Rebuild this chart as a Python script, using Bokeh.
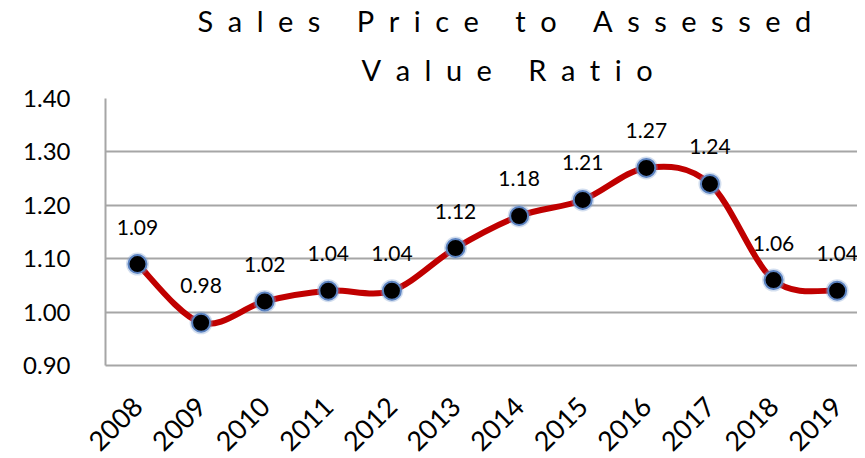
from math import pi
from bokeh.plotting import figure
from bokeh.models import Range1d, FixedTicker, ColumnDataSource, LabelSet, Title
from bokeh.core.properties import value
from bokeh.embed import file_html
from bokeh.resources import INLINE

# ---- data ----
years = ["2008", "2009", "2010", "2011", "2012", "2013",
         "2014", "2015", "2016", "2017", "2018", "2019"]
ratios = [1.09, 0.98, 1.02, 1.04, 1.04, 1.12, 1.18, 1.21, 1.27, 1.24, 1.06, 1.04]
y_ticks = [0.90, 1.00, 1.10, 1.20, 1.30, 1.40]
title_lines = ["Sales Price to Assessed", "Value Ratio"]

FONT = "Lato"
GRID = "#a6a6a6"
RED = "#C00000"

xs = list(range(len(years)))

def spaced(s):
    return "\u2002".join(s)

p = figure(frame_width=752, frame_height=267, output_backend="svg",
           toolbar_location=None,
           x_range=Range1d(-0.503, 11.32), y_range=Range1d(0.90, 1.40),
           min_border_left=105, min_border_right=0, min_border_top=98,
           min_border_bottom=84)
p.outline_line_color = None
p.background_fill_color = "white"
p.border_fill_color = "white"

# axes
p.xaxis.ticker = FixedTicker(ticks=xs)
p.xaxis.major_label_overrides = {i: y for i, y in zip(xs, years)}
p.xaxis.major_label_orientation = pi / 4
p.xaxis.major_label_text_font = FONT
p.xaxis.major_label_text_font_size = "27px"
p.xaxis.major_label_text_color = "black"
p.xaxis.major_label_standoff = 30
p.xaxis.major_tick_line_color = None
p.xaxis.minor_tick_line_color = None
p.xaxis.axis_line_color = GRID
p.xaxis.axis_line_width = 2

p.yaxis.ticker = FixedTicker(ticks=y_ticks)
p.yaxis.major_label_overrides = {t: f"{t:.2f}" for t in y_ticks}
p.yaxis.major_label_text_font = FONT
p.yaxis.major_label_text_font_size = "24px"
p.yaxis.major_label_text_color = "black"
p.yaxis.major_label_standoff = 29
p.yaxis.major_tick_line_color = None
p.yaxis.minor_tick_line_color = None
p.yaxis.axis_line_color = GRID
p.yaxis.axis_line_width = 2

p.xgrid.grid_line_color = None
p.ygrid.ticker = FixedTicker(ticks=y_ticks)
p.ygrid.grid_line_color = GRID
p.ygrid.grid_line_width = 2

# smoothed line (Catmull-Rom style bezier through the data points)
n = len(xs)
x0, y0, x1, y1, cx0, cy0, cx1, cy1 = [], [], [], [], [], [], [], []
for i in range(n - 1):
    pm = max(i - 1, 0)
    pp = min(i + 2, n - 1)
    x0.append(xs[i]); y0.append(ratios[i])
    x1.append(xs[i + 1]); y1.append(ratios[i + 1])
    cx0.append(xs[i] + (xs[i + 1] - xs[pm]) / 6)
    cy0.append(ratios[i] + (ratios[i + 1] - ratios[pm]) / 6)
    cx1.append(xs[i + 1] - (xs[pp] - xs[i]) / 6)
    cy1.append(ratios[i + 1] - (ratios[pp] - ratios[i]) / 6)
p.bezier(x0=x0, y0=y0, x1=x1, y1=y1, cx0=cx0, cy0=cy0, cx1=cx1, cy1=cy1,
         line_color=RED, line_width=6)

src = ColumnDataSource(dict(x=xs, y=ratios, lbl=[f"{v:.2f}" for v in ratios]))

# markers
p.scatter("x", "y", source=src, size=23, fill_color="#7fa0d0", fill_alpha=0.35,
          line_color=None)
p.scatter("x", "y", source=src, size=18, fill_color="black",
          line_color="#5b82c0", line_width=2)

# data labels
labels = LabelSet(x="x", y="y", text="lbl", source=src, y_offset=37,
                  text_align="center", text_baseline="middle",
                  text_font=value(FONT), text_font_size=value("21px"),
                  text_color="black")
p.add_layout(labels)

# title (letter spaced), two lines
t2 = Title(text=spaced(title_lines[1]), align="left", offset=256, standoff=24,
           text_font=FONT, text_font_size="29px", text_font_style="normal",
           text_color="black")
t1 = Title(text=spaced(title_lines[0]), align="left", offset=92, standoff=0,
           text_font=FONT, text_font_size="29px", text_font_style="normal",
           text_color="black")
p.add_layout(t2, "above")
p.add_layout(t1, "above")

open("out.html", "w").write(file_html(p, INLINE))
